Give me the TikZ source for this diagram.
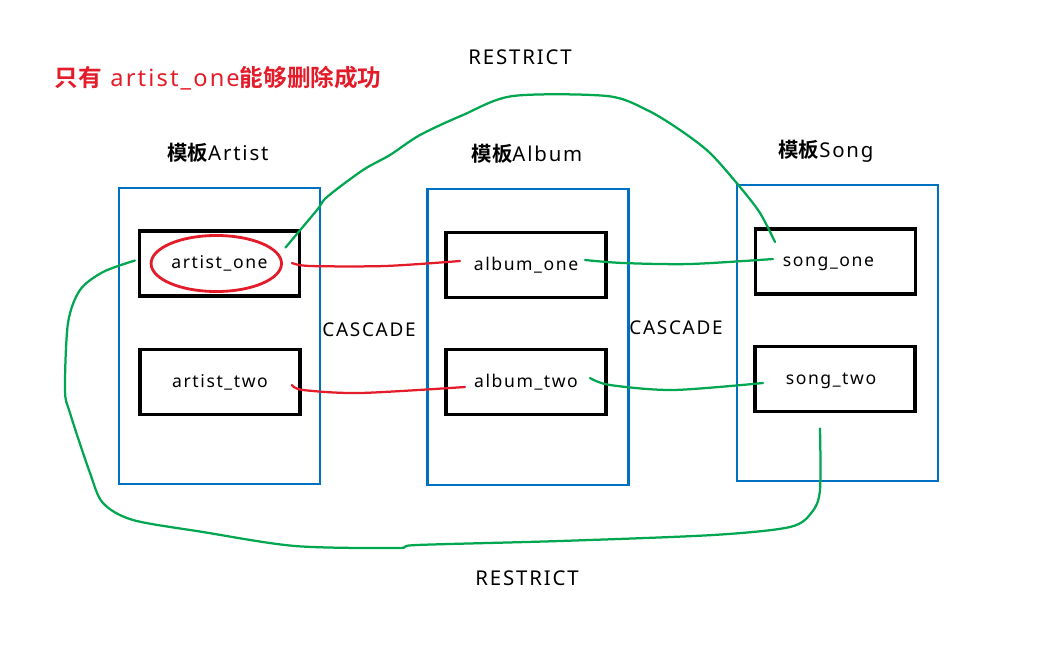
\documentclass[tikz,border=0pt]{standalone}
\usepackage{fontspec}
\usepackage{xcolor}
\setmainfont{Noto Sans}[LetterSpace=9]
\newfontfamily\cjk{Noto Sans CJK SC}[BoldFont={Noto Sans CJK SC Bold}]
\usetikzlibrary{calc}
\definecolor{boxblue}{RGB}{0,112,192}
\definecolor{linered}{RGB}{228,28,42}
\definecolor{linegreen}{RGB}{0,166,80}

\begin{document}
\begin{tikzpicture}[x=0.025cm, y=-0.025cm,
  tablebox/.style={draw=boxblue, line width=1.7pt, minimum width=5.03cm, minimum height=7.4cm},
  rowbox/.style={draw=black, line width=2.3pt, minimum width=4cm, minimum height=1.62cm, font=\fontsize{12.5}{15}\selectfont},
  labeltext/.style={font=\fontsize{14.5}{16}\selectfont},
  redlink/.style={draw=linered, line width=1.6pt, line cap=round},
  greenlink/.style={draw=linegreen, line width=1.6pt, line cap=round}]
  \useasboundingbox (0,0) rectangle (1054,653);

  % Define the title and the labels
  \node[anchor=west, text=linered, font=\fontsize{16.8}{20}\selectfont] (title) at (50,78)
    {{\cjk\bfseries 只有} artist\_one{\cjk\bfseries 能够删除成功}};
  \node[labeltext] (restricttop) at (520,57) {RESTRICT};
  \node[labeltext] (restrictbottom) at (527,578) {RESTRICT};
  \node[labeltext, font=\fontsize{13.5}{15}\selectfont] (cascadeleft) at (369,330) {CASCADE};
  \node[labeltext, font=\fontsize{13.5}{15}\selectfont] (cascaderight) at (676,328) {CASCADE};

  % Define the three tables
  \node[tablebox] (artist) at (219.5,336) {};
  \node[tablebox] (album) at (528,337) {};
  \node[tablebox] (song) at (837.5,333) {};
  \node[labeltext] (artistlabel) at (218,153) {{\cjk\bfseries 模板}Artist};
  \node[labeltext] (albumlabel) at (527,154) {{\cjk\bfseries 模板}Album};
  \node[labeltext] (songlabel) at (826,151) {{\cjk\bfseries 模板}Song};

  % Define the rows in each table
  \node[rowbox] (artistone) at (219.5,263.5) {artist\_one};
  \node[rowbox] (artisttwo) at (220,382) {artist\_two};
  \node[rowbox] (albumone) at (526,265) {album\_one};
  \node[rowbox] (albumtwo) at (526,382) {album\_two};
  \node[rowbox, text depth=0pt] (songone) at (835.5,261.5) {\hspace*{-0.35cm}song\_one};
  \node[rowbox, text depth=0pt] (songtwo) at (835,379) {\hspace*{-0.2cm}song\_two};

  % Mark the row that can be deleted
  \draw[redlink, line width=2pt] ([xshift=-0.08cm]artistone.center) ellipse [x radius=1.63cm, y radius=0.7cm];

  % Connector ends
  \coordinate (artistoneR) at ($(artistone.center)+(72.5,-0.5)$);
  \coordinate (artisttwoR) at ($(artisttwo.center)+(72,3)$);
  \coordinate (albumoneL) at ($(albumone.center)+(-66,-4)$);
  \coordinate (albumtwoL) at ($(albumtwo.center)+(-61,5)$);
  \coordinate (albumoneR) at ($(albumone.center)+(59,-5)$);
  \coordinate (albumtwoR) at ($(albumtwo.center)+(64,-4)$);
  \coordinate (songoneL) at ($(songone.center)+(-62.5,-2.5)$);
  \coordinate (songtwoL) at ($(songtwo.center)+(-72,4)$);
  \coordinate (artistoneT) at ($(artistone.center)+(66,-16)$);
  \coordinate (songoneT) at ($(songone.center)+(-60.5,-19.5)$);
  \coordinate (artistoneW) at ($(artistone.west)+(-3,-3)$);
  \coordinate (songtwoS) at ($(songtwo.south)+(-15,15.5)$);

  % Draw the CASCADE links
  \draw[redlink] plot[smooth, tension=0.5] coordinates {(artistoneR) (310,266) (385,266) (albumoneL)};
  \draw[redlink] plot[smooth, tension=0.5] coordinates {(artisttwoR) (303,390) (360,393) (albumtwoL)};
  \draw[greenlink] plot[smooth, tension=0.5] coordinates {(albumoneR) (623,263) (690,264) (songoneL)};
  \draw[greenlink] plot[smooth, tension=0.5] coordinates {(albumtwoR) (610,385) (673,390) (songtwoL)};

  % Draw the RESTRICT links
  \draw[greenlink] plot[smooth, tension=0.5] coordinates {(artistoneT) (317,210) (327,197) (363,170)
    (390,155) (420,135) (463,115) (513,96) (607,96) (647,110) (680,130) (710,153) (740,187) (760,213) (songoneT)};
  \draw[greenlink] plot[smooth, tension=0.5] coordinates {(artistoneW) (103,272) (80,290) (68,323)
    (65,390) (70,413) (90,473) (103,503) (133,520) (203,532) (295,546) (397,548) (417,545) (560,541)
    (713,535) (790,527) (812,512) (820,490) (songtwoS)};
\end{tikzpicture}
\end{document}
